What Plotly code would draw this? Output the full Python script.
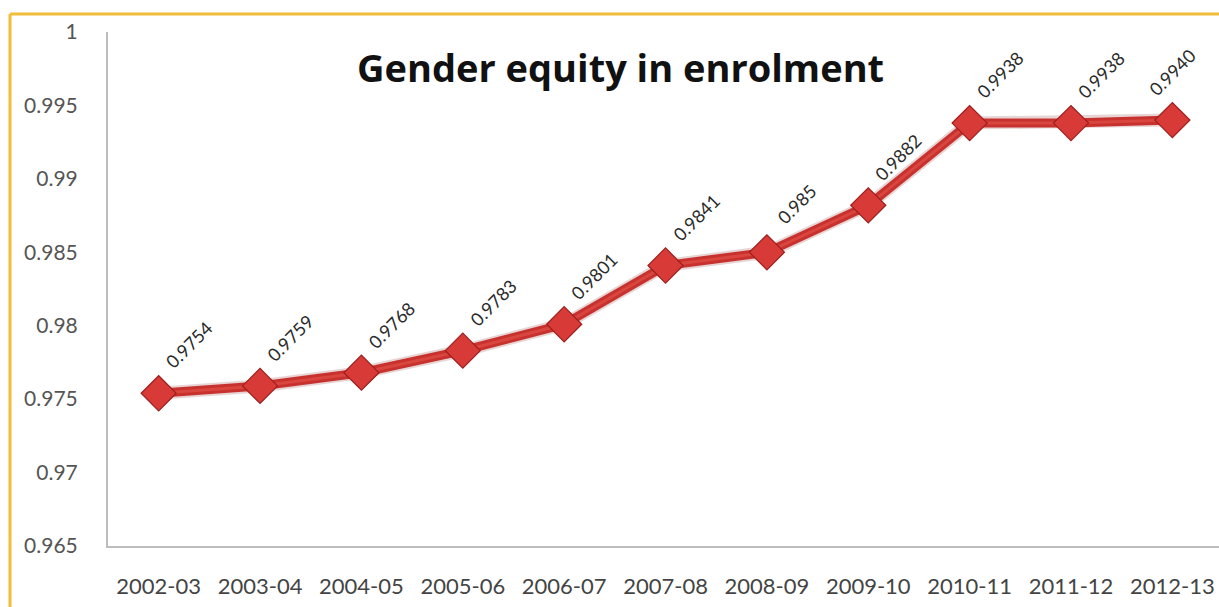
import plotly.graph_objects as go

# Gender parity index in enrolment by academic year
years = ["2002-03", "2003-04", "2004-05", "2005-06", "2006-07", "2007-08",
         "2008-09", "2009-10", "2010-11", "2011-12", "2012-13"]
gpi = [0.9754, 0.9759, 0.9768, 0.9783, 0.9801, 0.9841,
       0.985, 0.9882, 0.9938, 0.9938, 0.9940]
gpi_labels = ["0.9754", "0.9759", "0.9768", "0.9783", "0.9801", "0.9841",
              "0.985", "0.9882", "0.9938", "0.9938", "0.9940"]
y_ticks = [0.965, 0.97, 0.975, 0.98, 0.985, 0.99, 0.995, 1]
y_tick_text = ["0.965", "0.97", "0.975", "0.98", "0.985", "0.99", "0.995", "1"]

W, H = 1219, 607
L, R, T, B = 108, 0, 32, 61
FONT = "Lato"

fig = go.Figure()

# soft shadow under the line
fig.add_trace(go.Scatter(
    x=years, y=gpi, mode="lines",
    line=dict(color="rgba(120,20,20,0.18)", width=13),
    hoverinfo="skip", showlegend=False,
))
fig.add_trace(go.Scatter(
    x=years, y=gpi, mode="lines",
    line=dict(color="#C8322E", width=9),
    hoverinfo="skip", showlegend=False,
))
# lighter centre stripe for a rounded look
fig.add_trace(go.Scatter(
    x=years, y=gpi, mode="lines+markers",
    line=dict(color="#D9453F", width=3),
    marker=dict(symbol="diamond", size=27, color="#D83B37",
                line=dict(color="#9E1E1C", width=1.2)),
    showlegend=False,
))

# rotated value labels
n = len(years)
for i, (yr, v, lab) in enumerate(zip(years, gpi, gpi_labels)):
    dx = 30 if i < n - 1 else 0
    fig.add_annotation(
        x=yr, y=v, text=lab, showarrow=False, textangle=-45,
        xanchor="center", yanchor="middle", xshift=dx, yshift=48,
        font=dict(family=FONT, size=18, color="#2A2A2A"),
    )

# chart title
fig.add_annotation(
    x=(620 - L) / (W - L - R), y=(H - B - 67) / (H - T - B),
    xref="paper", yref="paper", text="<b>Gender equity in enrolment</b>",
    showarrow=False, xanchor="center", yanchor="middle",
    font=dict(family="Open Sans", size=38, color="#111111"),
)

# gold chart-area frame (top and left edges)
pw, ph = W - L - R, H - T - B
def px(x):
    return (x - L) / pw
def py(y):
    return (H - B - y) / ph
frame = dict(color="#F1BE3C", width=3)
fig.add_shape(type="line", xref="paper", yref="paper",
              x0=px(10), x1=px(W + 5), y0=py(14), y1=py(14), line=frame)
fig.add_shape(type="line", xref="paper", yref="paper",
              x0=px(10), x1=px(10), y0=py(14), y1=py(H + 5), line=frame)

fig.update_layout(
    width=W, height=H,
    margin=dict(l=L, r=R, t=T, b=B),
    paper_bgcolor="white", plot_bgcolor="white",
    xaxis=dict(
        type="category", range=[-0.5, 10.46],
        showgrid=False, zeroline=False,
        showline=True, linecolor="#BDBDBD", linewidth=2,
        ticks="", ticklabelstandoff=20,
        tickfont=dict(family=FONT, size=22, color="#444444"),
    ),
    yaxis=dict(
        range=[0.965, 1.0], tickvals=y_ticks, ticktext=y_tick_text,
        showgrid=False, zeroline=False,
        showline=True, linecolor="#BDBDBD", linewidth=2,
        ticks="", ticklabelstandoff=24,
        tickfont=dict(family=FONT, size=21, color="#555555"),
    ),
)

fig.write_html("out.html")
